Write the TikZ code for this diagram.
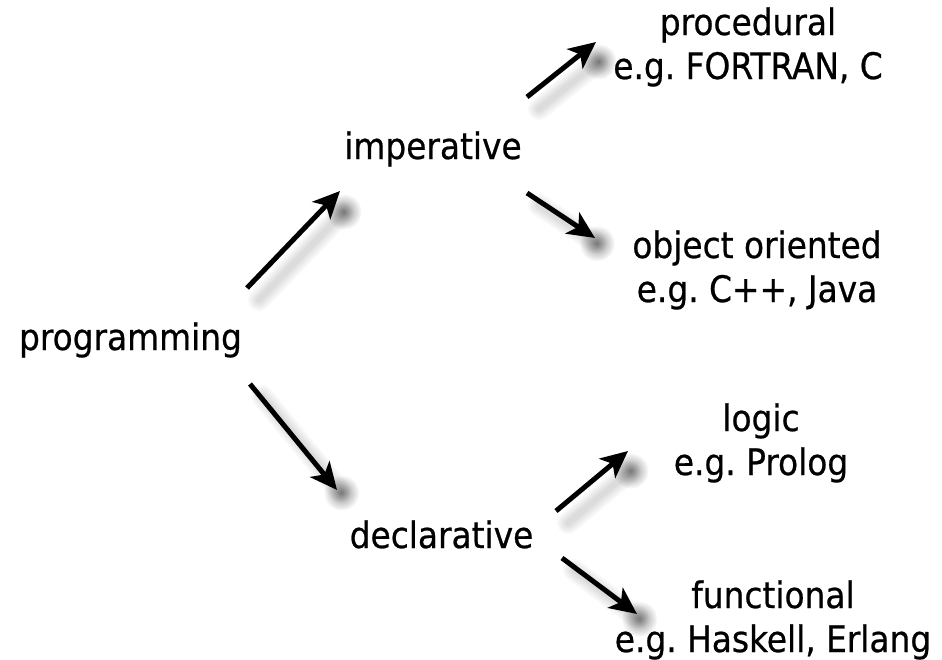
\documentclass[tikz,border=0pt]{standalone}
\usepackage{fontspec}
\setmainfont{DejaVu Sans Condensed}
\usetikzlibrary{arrows.meta,calc,fadings}
\tikzfading[name=softblob, inner color=transparent!55, outer color=transparent!100]
\tikzset{
  lbl/.style={font=\fontsize{36.5}{44}\selectfont\addfontfeature{FakeBold=0.6}, align=center, inner sep=0pt, anchor=base},
  conn/.style={line width=5pt, black, -{Stealth[length=27pt,width=25pt,inset=7pt]}},
}
\newcommand\shadowarrow[2]{%
  \foreach \w in {22,18,14,10,6}
    \draw[line width=\w pt, black, opacity=0.028, line cap=round]
      ($(#1)+(12,12)$) -- ($($(#2)!14pt!(#1)$)+(12,12)$);
  \fill[black, path fading=softblob] ($($(#2)!12pt!(#1)$)+(12,12)$) circle (18pt);
}
\begin{document}
\begin{tikzpicture}[x=1pt,y=-1pt]
\useasboundingbox (0,0) rectangle (942,659);
\fill[white] (0,0) rectangle (942,659);

% labels
\node[lbl] (prog) at (130.5,350) {programming};
\node[lbl] (imp)  at (433,159) {imperative};
\node[lbl] (decl) at (441.5,548) {declarative};
\node[lbl] (proc) at (748,79) {procedural\\e.g.\ FORTRAN, C};
\node[lbl] (oop)  at (757,302) {object oriented\\e.g.\ C++, Java};
\node[lbl] (logic) at (761,475) {logic\\e.g.\ Prolog};
\node[lbl] (func) at (773,652) {functional\\e.g.\ Haskell, Erlang};

% connector ends
\coordinate (a1s) at (247,288); \coordinate (a1e) at (340,191);
\coordinate (a2s) at (250,384); \coordinate (a2e) at (337,490);
\coordinate (a3s) at (527,97);  \coordinate (a3e) at (596,42);
\coordinate (a4s) at (527,193); \coordinate (a4e) at (595,238);
\coordinate (a5s) at (556,511); \coordinate (a5e) at (628,451);
\coordinate (a6s) at (562,558); \coordinate (a6e) at (637,614);

% shadows
\shadowarrow{a1s}{a1e}
\shadowarrow{a2s}{a2e}
\shadowarrow{a3s}{a3e}
\shadowarrow{a4s}{a4e}
\shadowarrow{a5s}{a5e}
\shadowarrow{a6s}{a6e}

% arrows
\draw[conn] (a1s) -- (a1e);
\draw[conn] (a2s) -- (a2e);
\draw[conn] (a3s) -- (a3e);
\draw[conn] (a4s) -- (a4e);
\draw[conn] (a5s) -- (a5e);
\draw[conn] (a6s) -- (a6e);
\end{tikzpicture}
\end{document}
